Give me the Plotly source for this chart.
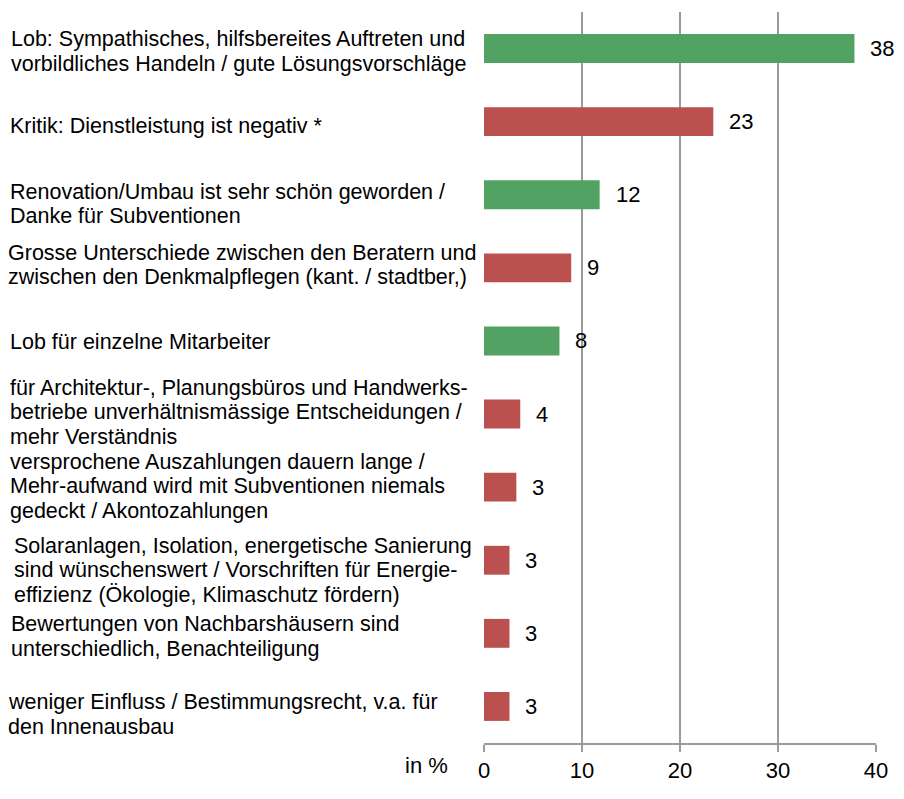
import plotly.graph_objects as go

# Survey answers (share of mentions, in %)
labels = [
    "Lob: Sympathisches, hilfsbereites Auftreten und\nvorbildliches Handeln / gute Lösungsvorschläge",
    "Kritik: Dienstleistung ist negativ *",
    "Renovation/Umbau ist sehr schön geworden /\nDanke für Subventionen",
    "Grosse Unterschiede zwischen den Beratern und\nzwischen den Denkmalpflegen (kant. / stadtber,)",
    "Lob für einzelne Mitarbeiter",
    "für Architektur-, Planungsbüros und Handwerks-\nbetriebe unverhältnismässige Entscheidungen /\nmehr Verständnis",
    "versprochene Auszahlungen dauern lange /\nMehr-aufwand wird mit Subventionen niemals\ngedeckt / Akontozahlungen",
    "Solaranlagen, Isolation, energetische Sanierung\nsind wünschenswert / Vorschriften für Energie-\neffizienz (Ökologie, Klimaschutz fördern)",
    "Bewertungen von Nachbarshäusern sind\nunterschiedlich, Benachteiligung",
    "weniger Einfluss / Bestimmungsrecht, v.a. für\nden Innenausbau",
]
values = [37.8, 23.4, 11.8, 8.9, 7.7, 3.7, 3.3, 2.6, 2.6, 2.6]
tone = ["lob", "kritik", "lob", "kritik", "lob", "kritik", "kritik", "kritik", "kritik", "kritik"]
x_ticks = [0, 10, 20, 30, 40]

palette = {"lob": "#52A263", "kritik": "#BA514E"}
cats = [f"c{i}" for i in range(len(labels))]

# text box placement of the category labels (pixels: left edge, vertical offset from bar)
LABEL_LEFT = [12, 11, 11, 9, 11, 11, 11, 15, 12, 9]
LABEL_DY = [2, 3, 8, -4, 0, -3, -2, 9, 2, 7]
LINE_STEP = 24.5
PLOT_LEFT = 484

fig = go.Figure(
    go.Bar(
        x=values,
        y=cats,
        orientation="h",
        width=0.395,
        marker=dict(color=[palette[t] for t in tone], line=dict(width=0)),
        hoverinfo="skip",
    )
)

# value labels to the right of each bar
for c, v in zip(cats, values):
    fig.add_annotation(
        x=v, y=c, xref="x", yref="y", text=f"{round(v)}",
        xanchor="left", yanchor="middle", xshift=14, showarrow=False,
        font=dict(size=22, color="#000000"),
    )

# category texts, left aligned in the left margin, one annotation per line
for c, lab, left, dy in zip(cats, labels, LABEL_LEFT, LABEL_DY):
    lines = lab.split("\n")
    n = len(lines)
    for i, line in enumerate(lines):
        offset = dy + (i - (n - 1) / 2) * LINE_STEP
        fig.add_annotation(
            x=0, y=c, xref="paper", yref="y", text=line,
            xanchor="left", yanchor="middle", align="left",
            xshift=left - 3 - PLOT_LEFT, yshift=-offset - 1,
            showarrow=False, font=dict(size=21.5, color="#000000"),
        )

fig.add_annotation(
    x=0, y=0, xref="paper", yref="paper", text="in %",
    xanchor="right", yanchor="middle", xshift=-34, yshift=-22,
    showarrow=False, font=dict(size=22, color="#000000"),
)

fig.update_layout(
    width=896,
    height=791,
    margin=dict(l=PLOT_LEFT, r=8, t=12, b=32),
    paper_bgcolor="white",
    plot_bgcolor="white",
    font=dict(family="Arial, Liberation Sans, sans-serif", color="#000000"),
    showlegend=False,
    bargap=0.6,
)
fig.update_xaxes(
    range=[0, 40],
    tickvals=x_ticks,
    ticktext=[str(t) for t in x_ticks],
    ticklabeloverflow="allow",
    showgrid=True,
    gridcolor="#9A9A9A",
    gridwidth=1.5,
    zeroline=False,
    showline=True,
    linecolor="#9A9A9A",
    linewidth=1.5,
    ticks="outside",
    ticklen=7,
    tickwidth=1.5,
    tickcolor="#9A9A9A",
    tickfont=dict(size=22, color="#000000"),
    fixedrange=True,
)
fig.update_yaxes(
    categoryorder="array",
    categoryarray=cats,
    autorange="reversed",
    showticklabels=False,
    showgrid=False,
    zeroline=False,
    showline=False,
    fixedrange=True,
)

fig.write_html("out.html", config={"displayModeBar": False})
